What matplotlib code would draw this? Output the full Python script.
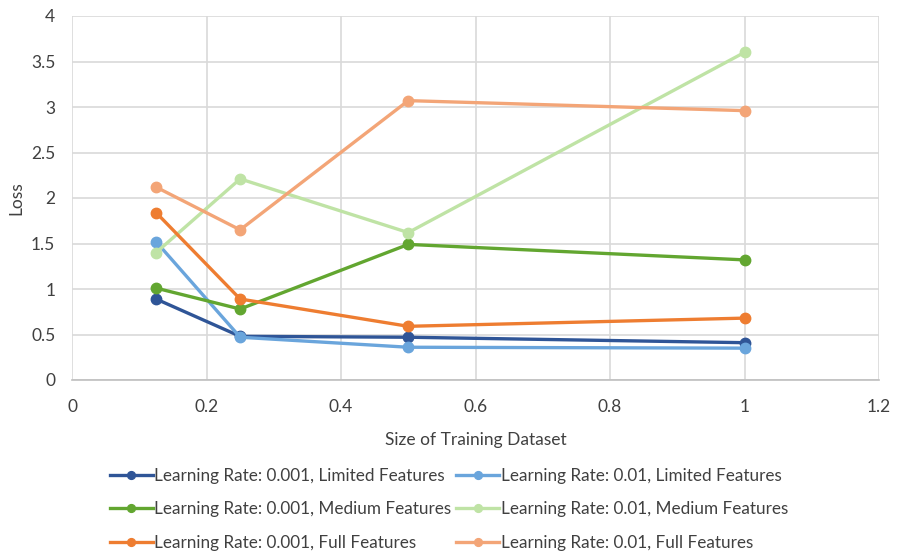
import matplotlib.pyplot as plt

plt.rcParams['font.family'] = ['Lato', 'DejaVu Sans']

# training set fraction used for each run
sizes = [0.125, 0.25, 0.5, 1.0]

loss_lr001_limited = [0.89, 0.48, 0.47, 0.41]
loss_lr01_limited = [1.52, 0.47, 0.36, 0.35]
loss_lr001_medium = [1.01, 0.78, 1.49, 1.32]
loss_lr01_medium = [1.40, 2.21, 1.62, 3.60]
loss_lr001_full = [1.84, 0.89, 0.59, 0.68]
loss_lr01_full = [2.12, 1.65, 3.07, 2.96]

series = [
    ("Learning Rate: 0.001, Limited Features", loss_lr001_limited, "#2F5597"),
    ("Learning Rate: 0.01, Limited Features", loss_lr01_limited, "#6AA5DC"),
    ("Learning Rate: 0.001, Medium Features", loss_lr001_medium, "#62A630"),
    ("Learning Rate: 0.01, Medium Features", loss_lr01_medium, "#BFE3A5"),
    ("Learning Rate: 0.001, Full Features", loss_lr001_full, "#EE7D31"),
    ("Learning Rate: 0.01, Full Features", loss_lr01_full, "#F3A577"),
]

fig = plt.figure(figsize=(8.98, 5.53), dpi=100)
ax = fig.add_axes([72/898, 1-380/553, (879-72)/898, (380-16)/553])

handles = []
for name, vals, col in series:
    h, = ax.plot(sizes, vals, color=col, lw=2.4, marker='o', ms=7.5, label=name)
    handles.append(h)

ax.set_xlim(0, 1.2)
ax.set_ylim(0, 4)
ax.set_xticks([0, 0.2, 0.4, 0.6, 0.8, 1.0, 1.2])
ax.set_xticklabels(['0', '0.2', '0.4', '0.6', '0.8', '1', '1.2'])
ax.set_yticks([0, 0.5, 1, 1.5, 2, 2.5, 3, 3.5, 4])
ax.set_yticklabels(['0', '0.5', '1', '1.5', '2', '2.5', '3', '3.5', '4'])
ax.grid(True, color='#D9D9D9', lw=1.2)
ax.set_axisbelow(True)
for s in ['top', 'right', 'left']:
    ax.spines[s].set_visible(False)
ax.spines['bottom'].set_color('#BFBFBF')
ax.spines['bottom'].set_linewidth(1.2)
ax.tick_params(axis='both', length=0, labelsize=12.5, colors='#404040')
ax.tick_params(axis='x', pad=14)
ax.tick_params(axis='y', pad=12)
ax.set_xlabel('Size of Training Dataset', fontsize=12.5, color='#404040', labelpad=12)
ax.set_ylabel('Loss', fontsize=12.5, color='#404040', labelpad=5)

# legend filled row by row: 0.001 on the left, 0.01 on the right
order = [0, 2, 4, 1, 3, 5]
fig.legend([handles[i] for i in order], [series[i][0] for i in order],
           ncol=2, loc='upper center', bbox_to_anchor=(0.5, 1-453/553),
           frameon=False, fontsize=12.3, handlelength=2.5, handletextpad=0.1,
           columnspacing=0.3, labelspacing=1.0, markerscale=0.75,
           labelcolor='#404040')

fig.savefig('out.png', dpi=100, facecolor='white')
